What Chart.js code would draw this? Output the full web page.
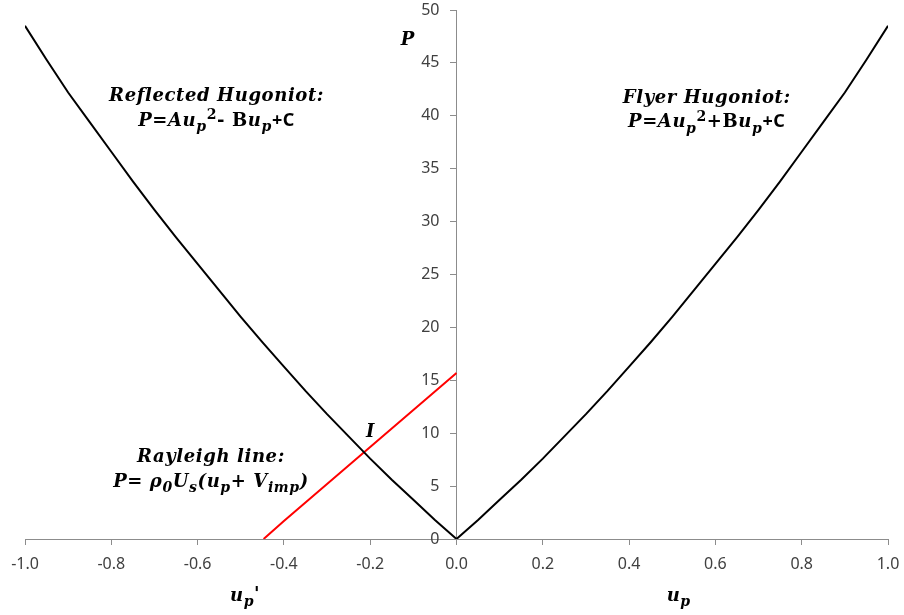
<!DOCTYPE html>
<html>
<head>
<meta charset="utf-8">
<script src="https://cdn.jsdelivr.net/npm/chart.js@4.4.1/dist/chart.umd.min.js"></script>
<style>
  html, body { margin: 0; padding: 0; background: #fff; }
  #wrap { width: 904px; height: 615px; }
</style>
</head>
<body>
<div id="wrap"><canvas id="c" width="904" height="615"></canvas></div>
<script>
// ---- data ----
const flyerUp = [0, 0.05, 0.1, 0.15, 0.2, 0.25, 0.3, 0.35, 0.4, 0.45, 0.5, 0.55, 0.6, 0.65, 0.7, 0.75, 0.8, 0.85, 0.9, 0.95, 1.0];
const flyerP  = [0, 1.8, 3.7, 5.6, 7.6, 9.7, 11.8, 14.0, 16.3, 18.6, 21.0, 23.5, 26.0, 28.5, 31.1, 33.8, 36.6, 39.4, 42.2, 45.3, 48.5];
const reflUp  = [-1.0, -0.95, -0.9, -0.85, -0.8, -0.75, -0.7, -0.65, -0.6, -0.55, -0.5, -0.45, -0.4, -0.35, -0.3, -0.25, -0.2, -0.15, -0.1, -0.05, 0];
const reflP   = [48.5, 45.3, 42.2, 39.4, 36.6, 33.8, 31.1, 28.5, 26.0, 23.5, 21.0, 18.6, 16.3, 14.0, 11.8, 9.7, 7.6, 5.6, 3.7, 1.8, 0];
const rayUp   = [-0.447, -0.4, -0.3, -0.2, -0.1, 0];
const rayP    = [0, 1.7, 5.2, 8.7, 12.2, 15.7];
const xTicks  = [-1.0, -0.8, -0.6, -0.4, -0.2, 0.0, 0.2, 0.4, 0.6, 0.8, 1.0];
const yTicks  = [0, 5, 10, 15, 20, 25, 30, 35, 40, 45, 50];

const AXIS = '#8c8c8c';
const LABEL = '#404040';
const SERIF = '"DejaVu Serif", serif';
const SANS = '"Noto Sans", sans-serif';

const pts = (xs, ys) => xs.map((x, i) => ({ x: x, y: ys[i] }));

// rich text annotations: segments {t, st (font style), o ('sub'|'sup'), f (family)}
const BI = 'italic bold';
const notes = [
  { u: -0.556, p: 41.4, segs: [{ t: 'Reflected Hugoniot:' }] },
  { u: -0.556, p: 39.06, segs: [{ t: 'P=Au' }, { t: 'p', o: 'sub' }, { t: '2', o: 'sup', st: 'bold' }, { t: '- ', st: 'bold' }, { t: 'B', st: 'bold' }, { t: 'u' }, { t: 'p', o: 'sub' }, { t: '+C', st: 'bold', f: SANS }] },
  { u: 0.580, p: 41.18, segs: [{ t: 'Flyer Hugoniot:' }] },
  { u: 0.580, p: 38.91, segs: [{ t: 'P=Au' }, { t: 'p', o: 'sub' }, { t: '2', o: 'sup', st: 'bold' }, { t: '+', st: 'bold' }, { t: 'B', st: 'bold' }, { t: 'u' }, { t: 'p', o: 'sub' }, { t: '+C', st: 'bold', f: SANS }] },
  { u: -0.569, p: 7.31, segs: [{ t: 'Rayleigh line:' }] },
  { u: -0.569, p: 4.94, segs: [{ t: 'P= ρ' }, { t: '0', o: 'sub' }, { t: 'U' }, { t: 's', o: 'sub' }, { t: '(u' }, { t: 'p', o: 'sub' }, { t: '+ V' }, { t: 'imp', o: 'sub' }, { t: ')' }] },
  { u: -0.199, p: 9.67, segs: [{ t: 'I' }] },
  { u: -0.113, p: 46.7, segs: [{ t: 'P' }] }
];
const axisTitles = [
  { u: -0.49, segs: [{ t: 'u' }, { t: 'p', o: 'sub' }, { t: '\'', o: 'sup2' }] },
  { u: 0.515, segs: [{ t: 'u' }, { t: 'p', o: 'sub' }] }
];
const FS = 18;

function drawRich(ctx, segs, cx, baseline, size) {
  let total = 0;
  ctx.letterSpacing = '0.6px';
  const items = segs.map(s => {
    const fs = (s.o === 'sub' || s.o === 'sup') ? size * 0.78 : size;
    const font = (s.st || BI) + ' ' + fs + 'px ' + (s.f || SERIF);
    ctx.font = font;
    const w = ctx.measureText(s.t).width;
    total += w;
    let dy = 0;
    if (s.o === 'sub') dy = size * 0.3;
    else if (s.o === 'sup') dy = -size * 0.36;
    else if (s.o === 'sup2') dy = -size * 0.05;
    return { s: s, font: font, w: w, dy: dy };
  });
  let x = cx - total / 2;
  ctx.textAlign = 'left';
  ctx.textBaseline = 'alphabetic';
  items.forEach(it => { ctx.font = it.font; ctx.fillText(it.s.t, x, baseline + it.dy); x += it.w; });
  ctx.letterSpacing = '0px';
}

const notesPlugin = {
  id: 'notes',
  afterDraw(chart) {
    const ctx = chart.ctx, xs = chart.scales.x, ys = chart.scales.y;
    ctx.save();
    ctx.fillStyle = '#000';
    notes.forEach(n => drawRich(ctx, n.segs, xs.getPixelForValue(n.u), ys.getPixelForValue(n.p), FS));
    axisTitles.forEach(n => drawRich(ctx, n.segs, xs.getPixelForValue(n.u), chart.chartArea.bottom + 62, FS));
    ctx.restore();
  }
};

const lineDs = (data, color) => ({
  data: data, showLine: true, borderColor: color, backgroundColor: color,
  borderWidth: 2, pointRadius: 0, pointHoverRadius: 0, tension: 0, fill: false
});

const Y_LABEL_SHIFT = 17; // tick length + gap, for the centred y axis labels

new Chart(document.getElementById('c'), {
  type: 'scatter',
  data: {
    datasets: [
      lineDs(pts(reflUp, reflP), '#000000'),
      lineDs(pts(flyerUp, flyerP), '#000000'),
      lineDs(pts(rayUp, rayP), '#ff0000')
    ]
  },
  options: {
    responsive: false,
    animation: false,
    devicePixelRatio: 1,
    layout: { padding: { left: 25, right: 16, top: 10, bottom: 0 } },
    plugins: { legend: { display: false }, tooltip: { enabled: false } },
    scales: {
      x: {
        type: 'linear', position: 'bottom', min: -1, max: 1,
        afterBuildTicks: s => { s.ticks = xTicks.map(v => ({ value: v })); },
        ticks: {
          color: LABEL, font: { family: SANS, size: 16 }, padding: 10,
          maxRotation: 0, autoSkip: false,
          callback: v => (Math.abs(v) < 1e-9 ? 0 : v).toFixed(1)
        },
        grid: { drawOnChartArea: false, drawTicks: true, tickLength: 6, color: AXIS, lineWidth: 1 },
        border: { color: AXIS, width: 1 },
        afterFit: s => { s.height = 76; s.paddingLeft = 0; s.paddingRight = 0; }
      },
      y: {
        type: 'linear', position: { x: 0 }, min: 0, max: 50,
        afterBuildTicks: s => { s.ticks = yTicks.map(v => ({ value: v })); },
        ticks: { color: LABEL, font: { family: SANS, size: 16 }, padding: 11, autoSkip: false },
        grid: { drawOnChartArea: false, drawTicks: true, tickLength: 6, color: AXIS, lineWidth: 1 },
        border: { color: AXIS, width: 1 },
        afterFit: s => { s.paddingTop = 0; s.paddingBottom = 0; },
        afterUpdate: s => {
          if (s._shiftPatched) return;
          s._shiftPatched = true;
          const orig = s._computeLabelItems.bind(s);
          s._computeLabelItems = function (ca) {
            const items = orig(ca);
            items.forEach(it => { it.options.translation[0] -= Y_LABEL_SHIFT; it.options.textAlign = 'right'; });
            return items;
          };
        }
      }
    }
  },
  plugins: [notesPlugin]
});
</script>
</body>
</html>
